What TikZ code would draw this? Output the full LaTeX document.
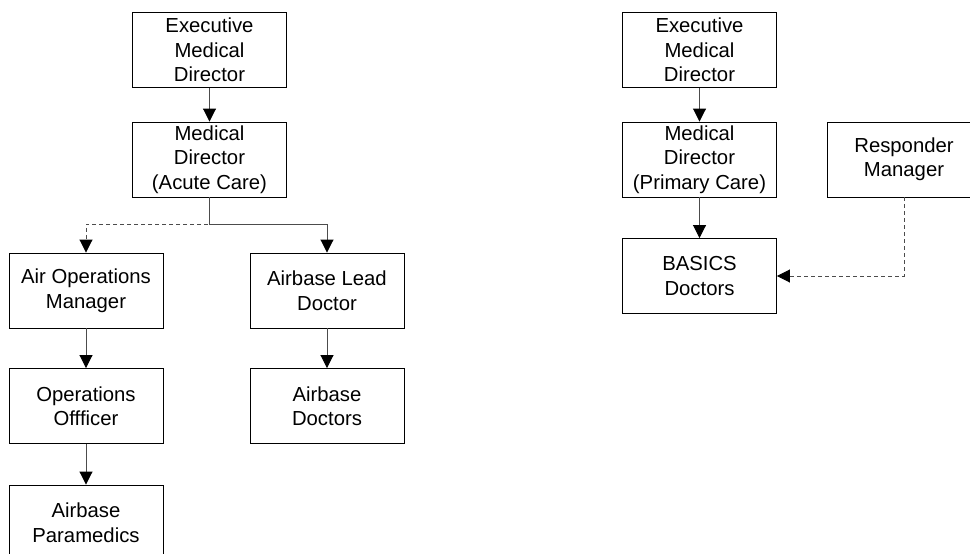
\documentclass[tikz,border=0pt]{standalone}
\usepackage{fontspec}
\setmainfont{Liberation Sans}
\usetikzlibrary{arrows.meta}
\begin{document}
\begin{tikzpicture}[x=1pt,y=-1pt,
  box/.style={draw=black,line width=0.9pt,minimum width=154pt,minimum height=75pt,
    inner sep=1pt,align=center,font=\fontsize{20.3}{24.5}\selectfont},
  link/.style={draw=black!70,line width=0.9pt,-{Triangle[width=13pt,length=13pt,black]}},
  dlink/.style={link,dash pattern=on 4pt off 3pt}]
\useasboundingbox (0,0) rectangle (970,554);
\clip (0,0) rectangle (970,554);
% left tree
\node[box] (exec) at (209.5,50) {Executive\\Medical\\Director};
\node[box] (med) at (209.5,159.5) {Medical\\Director\\(Acute Care)};
\node[box] (airops) at (86,290.5) {Air Operations\\Manager};
\node[box] (opoff) at (86,406) {Operations\\Offficer};
\node[box] (para) at (86,522.5) {Airbase\\Paramedics};
\node[box] (lead) at (327,290.5) {Airbase Lead\\Doctor};
\node[box] (docs) at (327,406) {Airbase\\Doctors};
\coordinate (branch) at (209.5,224);
% right tree
\node[box] (exec2) at (699.5,50) {Executive\\Medical\\Director};
\node[box] (med2) at (699.5,159.5) {Medical\\Director\\(Primary Care)};
\node[box] (basics) at (699.5,276) {BASICS\\Doctors};
\node[box] (resp) at (904,159.5) {Responder\\Manager};
% connectors
\draw[link] (exec) -- (med);
\draw[dlink] (med) -- (branch) -| (airops);
\draw[link] (med) -- (branch) -| (lead);
\draw[link] (airops) -- (opoff);
\draw[link] (opoff) -- (para);
\draw[link] (lead) -- (docs);
\draw[link] (exec2) -- (med2);
\draw[link] (med2) -- (basics);
\draw[dlink] (resp) |- (basics);
\end{tikzpicture}
\end{document}
